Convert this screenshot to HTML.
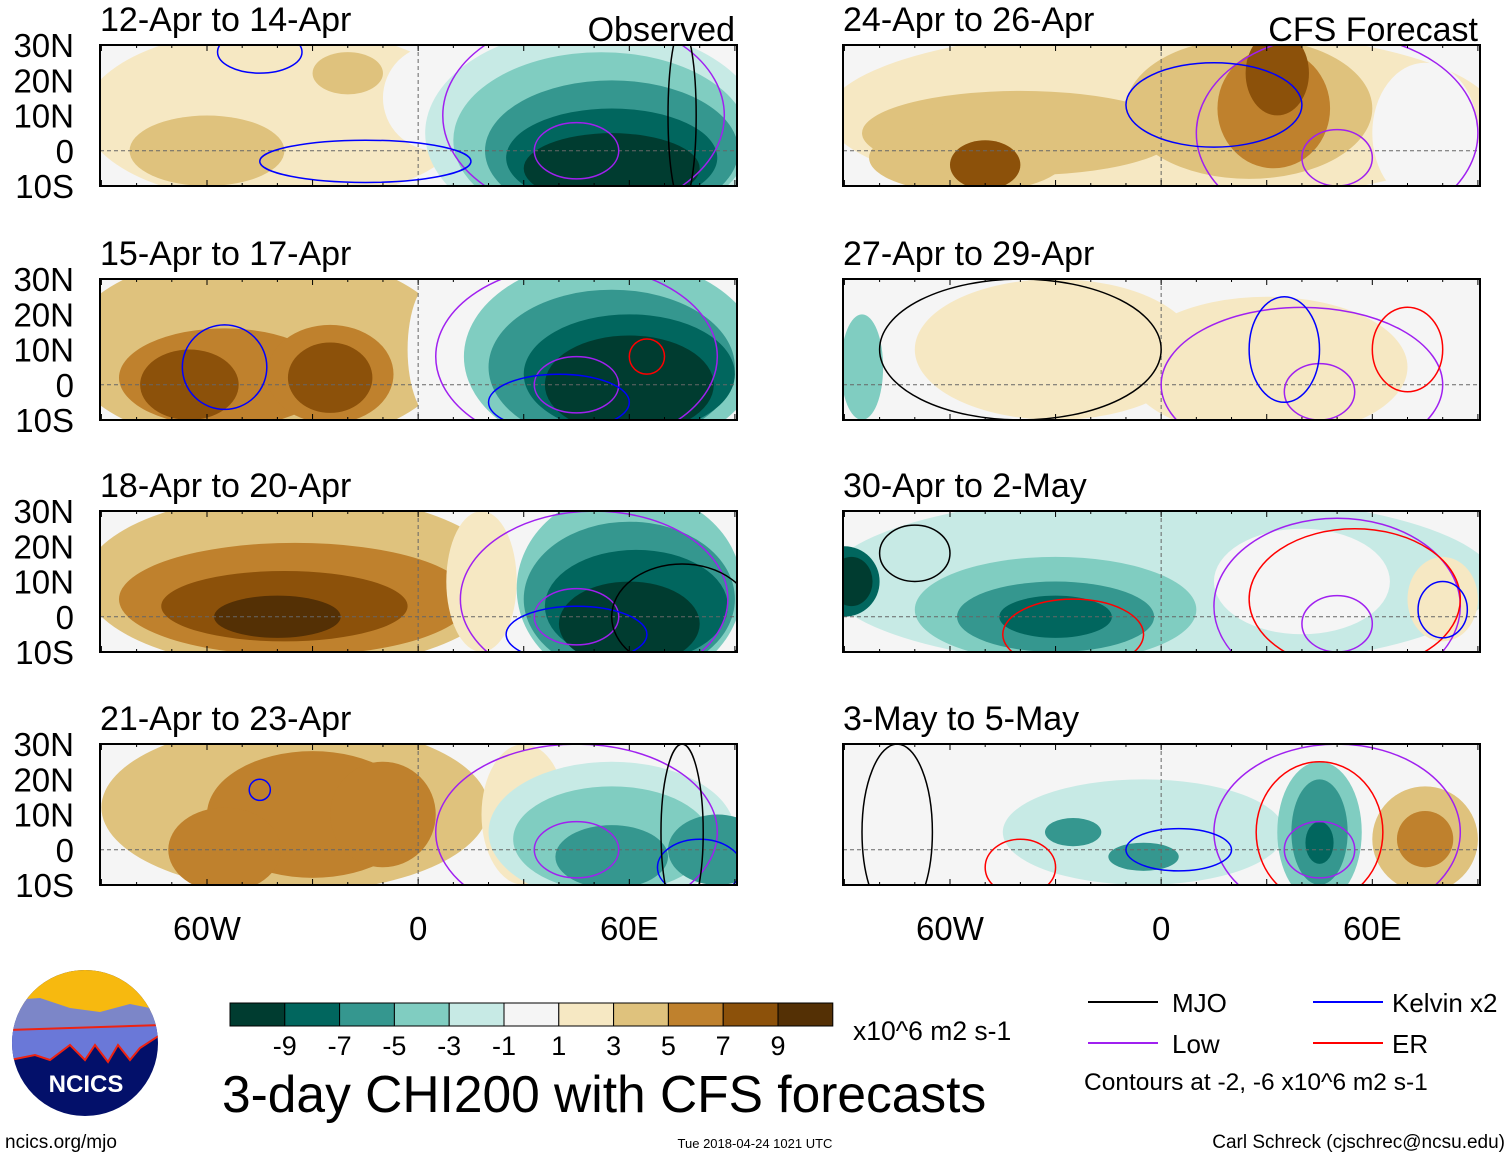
<!DOCTYPE html>
<html><head><meta charset="utf-8"><style>
body{margin:0;background:#fff;font-family:"Liberation Sans",sans-serif}
svg{display:block}
</style></head><body>
<svg id="fig" width="1510" height="1158" viewBox="0 0 1510 1158">
<g id="panels"></g>
<g id="logo">
<clipPath id="lc"><circle cx="85" cy="1043" r="73"/></clipPath>
<g clip-path="url(#lc)">
<rect x="10" y="968" width="150" height="150" fill="#03106a"/>
<rect x="10" y="968" width="150" height="45" fill="#f7b90f"/>
<path d="M10 1000 L40 998 L70 1008 L100 1012 L130 1004 L160 1010 L160 1030 L10 1035Z" fill="#7c86c8"/>
<path d="M10 1030 L160 1025 L160 1035 L140 1048 L130 1060 L118 1045 L108 1062 L95 1045 L85 1060 L70 1045 L50 1060 L35 1055 L10 1060Z" fill="#6a78d8" stroke="#e21" stroke-width="2"/>
</g>
<text x="86" y="1092" font-size="24" font-weight="bold" fill="#fff" text-anchor="middle">NCICS</text>
</g>
<text x="5" y="1148" font-size="19">ncics.org/mjo</text>
<g id="cbar"></g>
<text x="853" y="1040" font-size="26.5">x10^6 m2 s-1</text>
<text x="222" y="1112" font-size="51.5">3-day CHI200 with CFS forecasts</text>
<text x="755" y="1148" font-size="13" text-anchor="middle">Tue 2018-04-24 1021 UTC</text>
<text x="1505" y="1148" font-size="19" text-anchor="end">Carl Schreck (cjschrec@ncsu.edu)</text>
<g font-size="26">
<line x1="1088" y1="1002" x2="1158" y2="1002" stroke="#000" stroke-width="2"/><text x="1172" y="1012">MJO</text>
<line x1="1313" y1="1002" x2="1383" y2="1002" stroke="#00f" stroke-width="2"/><text x="1392" y="1012">Kelvin x2</text>
<line x1="1088" y1="1043" x2="1158" y2="1043" stroke="#a020f0" stroke-width="2"/><text x="1172" y="1053">Low</text>
<line x1="1313" y1="1043" x2="1383" y2="1043" stroke="#f00" stroke-width="2"/><text x="1392" y="1053">ER</text>
<text x="1084" y="1090" font-size="24.5">Contours at -2, -6 x10^6 m2 s-1</text>
</g>
</svg>
<script>
const levels=["-9","-7","-5","-3","-1","1","3","5","7","9"];
const colors=["#003c30","#01665e","#35978f","#80cdc1","#c7eae5","#f5f5f5","#f6e8c3","#dfc27d","#bf812d","#8c510a","#543005"];
const titles=["12-Apr to 14-Apr","15-Apr to 17-Apr","18-Apr to 20-Apr","21-Apr to 23-Apr","24-Apr to 26-Apr","27-Apr to 29-Apr","30-Apr to 2-May","3-May to 5-May"];
const latTicks=[30,20,10,0,-10];
const lonTicks=[-60,0,60];
// blobs: [lon, lat, rxDeg, ryDeg, colorIndex]
const blobs=[
[[-40,10,55,25,6],[-60,0,22,10,7],[-20,22,10,6,7],[5,15,15,15,5],[50,5,48,30,4],[52,3,42,25,3],[55,0,36,20,2],[55,-2,30,14,1],[55,-5,25,10,0]],
[[-45,10,55,28,7],[-55,2,30,14,8],[-65,0,14,10,9],[-25,3,18,14,8],[-25,2,12,10,9],[5,10,8,20,5],[55,8,42,28,3],[55,5,35,22,2],[60,3,30,17,1],[60,0,24,14,0]],
[[-35,10,60,25,7],[-35,5,50,16,8],[-38,3,35,10,9],[-40,0,18,6,10],[18,10,10,20,6],[60,8,32,28,3],[60,5,30,22,2],[62,3,26,16,1],[60,-2,20,12,0]],
[[-35,12,55,24,7],[-30,10,30,18,8],[-55,0,16,12,8],[-10,10,15,15,8],[30,10,12,20,6],[55,5,35,20,4],[55,3,28,15,3],[55,-2,16,9,2],[85,0,14,10,2]],
[[0,10,95,25,6],[-40,5,45,12,7],[-55,-2,28,10,7],[-50,-4,10,7,9],[25,12,35,20,7],[32,12,16,17,8],[33,22,9,12,9],[75,5,15,20,5]],
[[-60,10,20,20,5],[-30,10,40,20,6],[30,5,40,20,6],[-85,5,6,15,3],[50,0,10,6,6]],
[[0,10,95,25,4],[-30,2,40,15,3],[-30,0,28,10,2],[-30,0,16,6,1],[-90,10,10,10,1],[-88,10,6,7,0],[40,10,25,15,5],[80,5,10,12,6]],
[[0,10,95,25,5],[-5,5,40,15,4],[-25,5,8,4,2],[-5,-2,10,4,2],[45,5,12,20,3],[45,5,8,15,2],[45,2,4,6,1],[75,3,15,15,7],[75,3,8,8,8]]
];
// contours: [lon, lat, rxDeg, ryDeg, color]
const contours=[
[[47,10,40,28,"#a020f0"],[45,0,12,8,"#a020f0"],[-15,-3,30,6,"#00f"],[-45,28,12,6,"#00f"],[75,10,4,25,"#000"]],
[[45,8,40,26,"#a020f0"],[45,0,12,8,"#a020f0"],[-55,5,12,12,"#00f"],[40,-5,20,8,"#00f"],[65,8,5,5,"#f00"]],
[[50,5,38,25,"#a020f0"],[45,0,12,8,"#a020f0"],[45,-5,20,8,"#00f"],[75,0,20,15,"#000"]],
[[45,5,40,25,"#a020f0"],[45,0,12,8,"#a020f0"],[-45,17,3,3,"#00f"],[80,-5,12,8,"#00f"],[75,5,6,25,"#000"]],
[[50,5,40,28,"#a020f0"],[50,-2,10,8,"#a020f0"],[15,13,25,12,"#00f"]],
[[40,0,40,22,"#a020f0"],[45,-2,10,8,"#a020f0"],[-40,10,40,20,"#000"],[35,10,10,15,"#00f"],[70,10,10,12,"#f00"]],
[[50,3,35,25,"#a020f0"],[50,-2,10,8,"#a020f0"],[55,5,30,20,"#f00"],[80,2,7,8,"#00f"],[-25,-5,20,10,"#f00"],[-70,18,10,8,"#000"]],
[[50,5,35,25,"#a020f0"],[45,0,10,8,"#a020f0"],[45,5,18,20,"#f00"],[5,0,15,6,"#00f"],[-40,-5,10,8,"#f00"],[-75,5,10,25,"#000"]]
];
const NS="http://www.w3.org/2000/svg";
const P=document.getElementById("panels");
const colX=[100,843], rowY=[45,279,511,744], W=637, H=141;
function mk(t,a,p){const e=document.createElementNS(NS,t);for(const k in a)e.setAttribute(k,a[k]);p.appendChild(e);return e;}
for(let i=0;i<8;i++){
 const c=Math.floor(i/4), r=i%4, x0=colX[c], y0=rowY[r];
 const X=lon=>x0+(lon+90.4)*W/181, Y=lat=>y0+(30-lat)*H/40, S=W/181;
 const g=mk("g",{},P);
 
 
 const cid="cp"+i; const cp=mk("clipPath",{id:cid},g); mk("rect",{x:x0,y:y0,width:W,height:H},cp);
 const inner=mk("g",{"clip-path":"url(#"+cid+")"},g);
 mk("rect",{x:x0,y:y0,width:W,height:H,fill:colors[5]},inner);
 blobs[i].forEach(b=>{const e=mk("ellipse",{cx:X(b[0]),cy:Y(b[1]),rx:b[2]*S,ry:b[3]*S,fill:colors[b[4]]},inner);
  });
 mk("line",{x1:x0,y1:Y(0),x2:x0+W,y2:Y(0),stroke:"#666","stroke-dasharray":"4 3","stroke-width":1},inner);
 mk("line",{x1:X(0),y1:y0,x2:X(0),y2:y0+H,stroke:"#666","stroke-dasharray":"4 3","stroke-width":1},inner);
 contours[i].forEach(b=>{const e=mk("ellipse",{cx:X(b[0]),cy:Y(b[1]),rx:b[2]*S,ry:b[3]*S,fill:"none",stroke:b[4],"stroke-width":1.5},inner);
  });
 mk("rect",{x:x0,y:y0,width:W,height:H,fill:"none",stroke:"#000","stroke-width":2},g);
 for(let l=-90;l<=90;l+=10){const h=(l%30===0)?6:3;mk("line",{x1:X(l),y1:y0,x2:X(l),y2:y0+h,stroke:"#000"},g);mk("line",{x1:X(l),y1:y0+H,x2:X(l),y2:y0+H-h,stroke:"#000"},g);}
 const t=mk("text",{x:x0,y:y0-14,"font-size":34},g);t.textContent=titles[i];
 
 if(i===0||i===4){const o=mk("text",{x:x0+W-2,y:y0-4,"font-size":34,"text-anchor":"end"},g);o.textContent=i===0?"Observed":"CFS Forecast";
  }
 if(c===0){latTicks.forEach(l=>{const tt=mk("text",{x:74,y:Y(l)+12,"font-size":33,"text-anchor":"end"},g);
  tt.textContent=l>0?l+"N":l<0?(-l)+"S":"0";
  });}
 if(r===3){lonTicks.forEach(l=>{const tt=mk("text",{x:X(l),y:940,"font-size":33,"text-anchor":"middle"},g);
  tt.textContent=l<0?(-l)+"W":l>0?l+"E":"0";
  });}
}
const CB=document.getElementById("cbar"), bw=54.8;
colors.forEach((col,k)=>{const e=mk("rect",{x:230+k*bw,y:1003,width:bw,height:23,fill:col,stroke:"#000","stroke-width":1},CB);
 });
levels.forEach((lv,k)=>{const e=mk("text",{x:230+(k+1)*bw,y:1055,"font-size":27,"text-anchor":"middle"},CB);e.textContent=lv;
 });
</script>
</body></html>
